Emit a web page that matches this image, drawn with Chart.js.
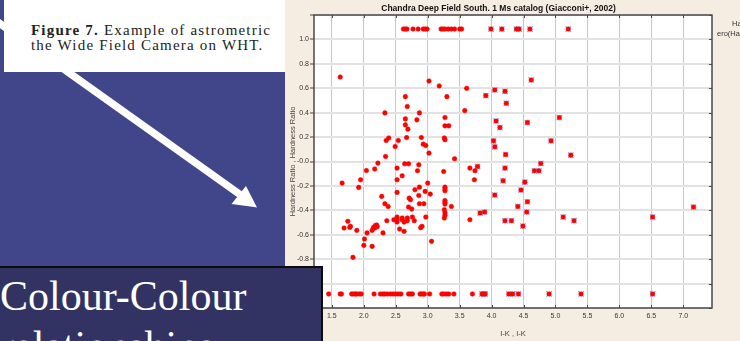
<!DOCTYPE html>
<html lang="en">
  <head>
    <meta charset="UTF-8" />
    <title>Colour-Colour relationships</title>
    <script src="https://cdn.jsdelivr.net/npm/chart.js"></script>
    <style>
      body { margin: 0; width: 740px; height: 341px; overflow: hidden; position: relative; background: rgb(65, 70, 138); }
      #arrow { position: absolute; left: 0; top: 0; }
      #caption { position: absolute; left: 4px; top: 0; width: 300px; height: 72px; background: #fff;
        font-family: "Liberation Serif", serif; font-size: 15px; letter-spacing: 1.2px; color: #222; }
      #caption div { position: absolute; left: 27px; white-space: nowrap; }
      #grafico { position: absolute; left: 285px; top: 0; background: rgb(246, 237, 226); }
      .leg { position: absolute; font: 7.5px "Liberation Sans", Arial, sans-serif; color: #333; white-space: nowrap; }
      #heading { position: absolute; left: 0; top: 266px; width: 323px; height: 90px; background: rgb(50, 51, 98);
        border-top: 2px solid #0c0c0c; border-right: 2px solid #0c0c0c; color: #fff;
        font-family: "Liberation Serif", serif; font-size: 42px; line-height: 50px; padding-top: 3px; box-sizing: border-box; }
    </style>
  </head>
  <body>
    <svg id="arrow" width="740" height="341">
      <line x1="-12" y1="15" x2="240" y2="194.5" stroke="#fff" stroke-width="7.5" />
      <polygon points="257,207.5 231.5,204 246,186" fill="#fff" />
    </svg>
    <div id="caption">
      <div style="top: 22px"><b>Figure 7.</b> Example of astrometric</div>
      <div style="top: 37px">the Wide Field Camera on WHT.</div>
    </div>
    <canvas id="grafico" width="455" height="341"></canvas>
    <div class="leg" style="left: 732px; top: 19px">Ha</div>
    <div class="leg" style="left: 717px; top: 29px">ero(Ha</div>
    <div id="heading">Colour-Colour<br />relationships</div>

    <script>
      // points plotted at the top / bottom edge are limits
      const limHi = 1.085
      const limLo = -1.085

      // red dots (I-K < ~3.8)
      const redX = [1.63, 3.02, 3.18, 3.61, 2.65, 3.30, 2.68, 3.58, 2.33, 2.87, 2.65, 2.83, 3.27, 2.65, 3.27, 3.33, 2.69,
        2.39, 2.35, 2.67, 2.90, 3.26, 3.27, 2.54, 2.93, 2.97, 2.49, 3.02, 2.34, 3.42, 2.22, 2.64, 2.70, 2.86, 2.04, 2.17,
        2.52, 2.84, 3.25, 3.66, 3.74, 2.60, 1.66, 1.95, 2.52, 3.73, 1.92, 3.00, 2.80, 2.87, 2.96, 3.04, 2.86, 2.52, 2.28,
        2.71, 2.73, 2.87, 2.94, 2.33, 2.38, 2.70, 2.75, 3.27, 3.27, 3.27, 3.27, 3.27, 3.27, 3.26, 3.27, 3.27, 3.26, 3.37,
        2.97, 3.66, 1.75, 1.69, 1.78, 1.79, 1.89, 2.05, 2.13, 2.15, 2.18, 2.20, 2.17, 2.21, 2.30, 2.36, 2.47, 2.52, 2.52,
        2.52, 2.60, 2.60, 2.63, 2.68, 2.68, 2.76, 2.79, 2.56, 2.63, 2.89, 2.91, 2.01, 2.00, 2.13, 1.83, 3.06]
      const redY = [0.692, 0.659, 0.619, 0.599, 0.531, 0.531, 0.45, 0.417, 0.398, 0.398, 0.349, 0.341, 0.36, 0.3, 0.292,
        0.292, 0.265, 0.193, 0.172, 0.196, 0.196, 0.193, 0.178, 0.172, 0.142, 0.131, 0.123, 0.069, 0.041, 0.022, -0.013,
        -0.019, -0.019, -0.027, -0.074, -0.062, -0.054, -0.076, -0.082, -0.054, -0.076, -0.117, -0.177, -0.15, -0.15,
        -0.15, -0.212, -0.177, -0.231, -0.21, -0.245, -0.267, -0.278, -0.253, -0.286, -0.3, -0.313, -0.346, -0.346,
        -0.346, -0.368, -0.373, -0.389, -0.21, -0.226, -0.24, -0.32, -0.335, -0.349, -0.395, -0.42, -0.44, -0.463,
        -0.368, -0.455, -0.477, -0.49, -0.545, -0.54, -0.53, -0.564, -0.585, -0.564, -0.54, -0.525, -0.52, -0.545,
        -0.535, -0.585, -0.485, -0.477, -0.455, -0.477, -0.496, -0.463, -0.477, -0.496, -0.463, -0.485, -0.455, -0.485,
        -0.553, -0.572, -0.542, -0.531, -0.635, -0.687, -0.695, -0.785, -0.654]
      const redHiX = [2.62, 2.65, 2.675, 2.77, 2.85, 2.93, 2.96, 2.99, 3.21, 3.24, 3.27, 3.32, 3.37, 3.42, 3.50, 3.53]
      const redLoX = [1.45, 1.63, 1.65, 1.81, 1.84, 1.87, 1.89, 1.93, 1.96, 2.16, 2.26, 2.30, 2.33, 2.37, 2.42, 2.46,
        2.50, 2.54, 2.58, 2.70, 2.73, 2.76, 2.88, 2.90, 2.93, 2.95, 3.03, 3.22, 3.25, 3.29, 3.33, 3.41, 3.70]

      // dots with the blue cross (I-K > ~3.8)
      const bluX = [4.62, 4.05, 4.21, 3.91, 4.23, 5.06, 4.07, 4.56, 4.13, 4.03, 4.93, 4.05, 4.22, 5.24, 4.77, 3.78, 4.21,
        4.18, 4.05, 4.46, 4.52, 4.67, 4.74, 4.41, 4.56, 4.55, 3.82, 3.89, 4.21, 4.31, 4.49, 5.12, 5.29, 6.52, 7.16]
      const bluY = [0.668, 0.586, 0.575, 0.54, 0.477, 0.36, 0.332, 0.319, 0.278, 0.169, 0.169, 0.12, 0.057, 0.052,
        -0.016, -0.041, -0.054, -0.158, -0.275, -0.234, -0.169, -0.076, -0.076, -0.368, -0.33, -0.414, -0.422, -0.414,
        -0.485, -0.485, -0.529, -0.455, -0.485, -0.455, -0.373]
      const bluHiX = [3.99, 4.16, 4.39, 4.43, 4.60, 5.20]
      const bluLoX = [3.85, 3.88, 3.90, 4.27, 4.33, 4.42, 4.90, 5.40, 6.52]

      const xTicks = [1.5, 2.0, 2.5, 3.0, 3.5, 4.0, 4.5, 5.0, 5.5, 6.0, 6.5, 7.0]
      const yTicks = [-1.2, -1.0, -0.8, -0.6, -0.4, -0.2, 0, 0.2, 0.4, 0.6, 0.8, 1.0, 1.2]

      const pontos = (xs, ys) => xs.map((x, i) => ({ x: x, y: ys[i] }))
      const linha = (xs, y) => xs.map((x) => ({ x: x, y: y }))

      const redPts = pontos(redX, redY).concat(linha(redHiX, limHi), linha(redLoX, limLo))
      const bluPts = pontos(bluX, bluY).concat(linha(bluHiX, limHi), linha(bluLoX, limLo))

      const sans = "'Liberation Sans', Arial, sans-serif"

      // white plot area, box round it + small inner ticks on right, top and bottom
      const moldura = {
        id: "moldura",
        beforeDraw(chart) {
          const { ctx, chartArea: a } = chart
          ctx.save()
          ctx.fillStyle = "#ffffff"
          ctx.fillRect(a.left, a.top, a.right - a.left, a.bottom - a.top)
          ctx.restore()
        },
        afterDraw(chart) {
          const { ctx, chartArea: a, scales } = chart
          ctx.save()
          ctx.strokeStyle = "#4a4a4a"
          ctx.lineWidth = 1
          ctx.beginPath()
          xTicks.forEach((v) => {
            const px = Math.round(scales.x.getPixelForValue(v)) + 0.5
            ctx.moveTo(px, a.bottom)
            ctx.lineTo(px, a.bottom - 3)
            ctx.moveTo(px, a.top)
            ctx.lineTo(px, a.top + 3)
          })
          yTicks.forEach((v) => {
            const py = Math.round(scales.y.getPixelForValue(v)) + 0.5
            ctx.moveTo(a.right, py)
            ctx.lineTo(a.right - 3, py)
          })
          ctx.stroke()
          ctx.lineWidth = 1.5
          ctx.strokeRect(a.left, a.top, a.right - a.left, a.bottom - a.top)
          ctx.restore()
        },
      }

      const ctx = document.getElementById("grafico")
      let grafico = new Chart(ctx, {
        type: "scatter",
        data: {
          datasets: [
            { data: redPts, pointRadius: 2.3, backgroundColor: "#ff0000", borderColor: "#ff0000", borderWidth: 0.5 },
            { data: bluPts, pointRadius: 2.3, backgroundColor: "#ff0000", borderColor: "#ff0000", borderWidth: 0.5 },
            { data: bluPts, pointStyle: "crossRot", pointRadius: 3.8, borderColor: "#9c9cf2", borderWidth: 1.3 },
          ],
        },
        options: {
          responsive: false,
          animation: false,
          events: [],
          layout: { padding: { left: 0, right: 28, top: 0, bottom: 0 } },
          plugins: {
            legend: { display: false },
            tooltip: { enabled: false },
            title: {
              display: true,
              text: "Chandra Deep Field South. 1 Ms catalog (Giacconi+, 2002)",
              color: "#111",
              font: { family: sans, size: 8.5, weight: "bold" },
              padding: { top: 4, bottom: 0.8 },
            },
          },
          scales: {
            x: {
              type: "linear",
              min: 1.22,
              max: 7.45,
              afterBuildTicks: (s) => { s.ticks = xTicks.map((v) => ({ value: v })) },
              afterFit: (s) => { s.height = 33 },
              grid: { color: "#c8c8c8", lineWidth: 1, drawTicks: false },
              border: { display: false },
              ticks: { padding: 4, color: "#333", font: { family: sans, size: 7 }, maxRotation: 0, autoSkip: false,
                callback: (v) => v.toFixed(1) },
              title: { display: true, text: "I-K , I-K", color: "#444", font: { family: sans, size: 7.5 },
                padding: { top: 0, bottom: 3 } },
            },
            y: {
              min: -1.2,
              max: 1.2,
              afterBuildTicks: (s) => { s.ticks = yTicks.map((v) => ({ value: v })) },
              afterFit: (s) => { s.width = 29 },
              grid: { color: "#e2e2e2", lineWidth: 2, tickColor: "#444", tickLength: 4, tickWidth: 1 },
              border: { display: false },
              ticks: { padding: 1, color: "#333", font: { family: sans, size: 7 }, autoSkip: false,
                callback: (v) => (Math.abs(v) > 1.1 ? "" : v === 0 ? "-0.0" : v.toFixed(1)) },
              title: { display: true, text: "Hardness Ratio , Hardness Ratio", color: "#444",
                font: { family: sans, size: 7.5 }, padding: { top: 3, bottom: 0 } },
            },
          },
        },
        plugins: [moldura],
      })
    </script>
  </body>
</html>
